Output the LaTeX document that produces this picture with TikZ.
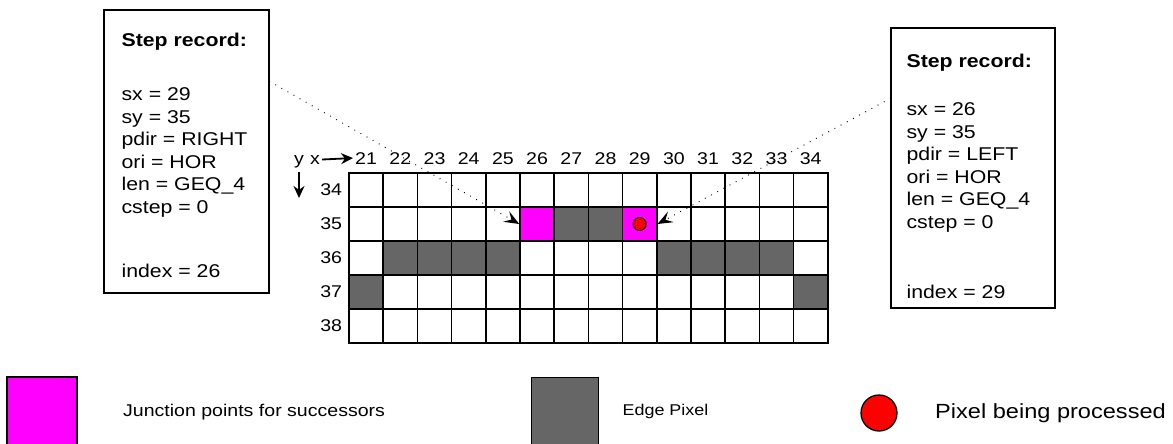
\documentclass[tikz,border=0pt]{standalone}
\usepackage{fontspec}
\setmainfont{Liberation Sans}[FakeStretch=1.15]
\usetikzlibrary{positioning, arrows.meta, calc, backgrounds}

\definecolor{edgegray}{HTML}{666666}
\definecolor{juncmag}{HTML}{FF00FF}
\definecolor{curred}{HTML}{FF0000}

\newcommand{\recfont}{\fontsize{18.5}{22.5}\selectfont}
\newcommand{\gridfont}{\fontsize{17}{20}\selectfont}

\begin{document}
\begin{tikzpicture}[
  x=1pt, y=-1pt,
  every node/.style={font=\gridfont},
  cell/.style={rectangle, draw, line width=1.5pt, minimum width=34.2pt,
               minimum height=34pt, inner sep=0pt},
  rec/.style={rectangle, draw, line width=1.2pt, inner sep=0pt},
  rectxt/.style={align=left, inner sep=0pt, anchor=north west, font=\recfont},
  lbl/.style={inner sep=2pt},
  legbox/.style={rectangle, draw, line width=1.2pt, minimum size=70pt, inner sep=0pt},
  pxdot/.style={circle, draw, line width=1pt, fill=curred, inner sep=0pt},
  dotarrow/.style={line width=1.3pt, dash pattern=on 0.01pt off 7pt, line cap=round,
                   -{Stealth[length=15pt, width=12pt, inset=6pt]}},
  axarrow/.style={line width=1.8pt, -{Stealth[length=12pt, width=11pt]}},
]
\useasboundingbox (0,0) rectangle (1173,444);

% pixel grid
\foreach \c in {21,...,34}
  \foreach \r in {34,...,38}
    \node[cell] (c-\c-\r) at ({349+34.2*(\c-21)+17.1}, {173+34*(\r-34)+17}) {};

\begin{scope}[on background layer]
  \foreach \c/\r in {27/35,28/35,22/36,23/36,24/36,25/36,30/36,31/36,32/36,33/36,21/37,34/37}
    \fill[edgegray] (c-\c-\r.north west) rectangle (c-\c-\r.south east);
  \foreach \c in {26,29}
    \fill[juncmag] (c-\c-35.north west) rectangle (c-\c-35.south east);
\end{scope}

\node[pxdot, minimum size=13pt] (cur) at (c-29-35) {};

% axis labels
\foreach \c in {21,...,34}
  \node[lbl, anchor=base] (h\c) at ({349+34.2*(\c-21)+17.1}, 164) {\c};
\foreach \r in {34,...,38}
  \node[lbl, left=4pt of c-21-\r] (r\r) {\r};
\node[lbl, anchor=base] (ylab) at (299,164) {y};
\node[lbl, anchor=base] (xlab) at (315,164) {x};
\coordinate (ydn) at (299,198);
\draw[axarrow] (xlab.east) -- (h21.west);
\draw[axarrow] ([yshift=-2pt]ylab.south) -- (ydn);

% step records
\node[rec, minimum width=165pt, minimum height=283pt] (recL) at (186.5,151.5) {};
\node[rectxt] (recLtxt) at ($(recL.north west)+(18,23)$)
  {\textbf{Step record:}\\[32pt] sx = 29\\ sy = 35\\ pdir = RIGHT\\ ori = HOR\\
   len = GEQ\_4\\ cstep = 0\\[42pt] index = 26};

\node[rec, minimum width=164pt, minimum height=280pt] (recR) at (973,168) {};
\node[rectxt] (recRtxt) at ($(recR.north west)+(16,26)$)
  {\textbf{Step record:}\\[26pt] sx = 26\\ sy = 35\\ pdir = LEFT\\ ori = HOR\\
   len = GEQ\_4\\ cstep = 0\\[48pt] index = 29};

\draw[dotarrow] ($(recL.north east)+(0,72)$) -- (c-26-35.west);
\draw[dotarrow] ($(recR.north west)+(0,71)$) -- (c-29-35.east);

% legend
\node[legbox, fill=juncmag] (legJ) at (42,412) {};
\node[right=42pt of legJ] (legJtxt) {Junction points for successors};
\node[legbox, fill=edgegray, minimum size=67pt] (legE) at (565,411) {};
\node[right=20pt of legE, font=\fontsize{15.6}{19}\selectfont] (legEtxt) {Edge Pixel};
\node[pxdot, minimum size=36pt, line width=1.3pt] (legP) at (879,413) {};
\node[right=34pt of legP, font=\fontsize{20.5}{24}\selectfont] (legPtxt) {Pixel being processed};

\end{tikzpicture}
\end{document}
